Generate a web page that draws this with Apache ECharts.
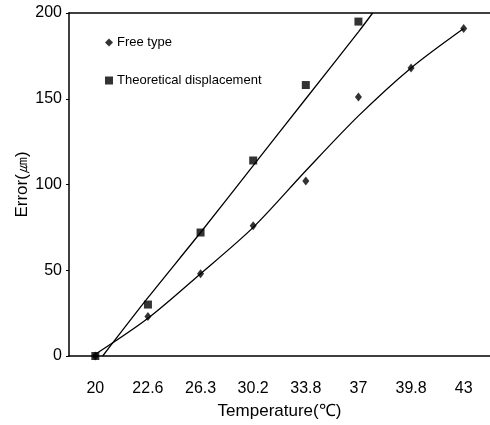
<!DOCTYPE html>
<html><head><meta charset="utf-8">
<script src="https://cdn.jsdelivr.net/npm/echarts@6/dist/echarts.min.js"></script>
<style>html,body{margin:0;padding:0;background:#fff}#c{width:490px;height:425px}</style>
</head><body><div id="c"></div>
<script>
const categories = ['20', '22.6', '26.3', '30.2', '33.8', '37', '39.8', '43'];
const freeType = [0, 23, 48, 76, 102, 151, 168, 191];
const theoretical = [0, 30, 72, 114, 158, 195];
// trend curves: [category position, value]
const freeTrend = [[0, 1], [1, 22], [2, 48], [3, 75], [4, 108], [5, 140], [6, 168], [7, 191]];
const theoTrend = [[0.14, 0], [1, 34], [2, 72], [3, 111], [4, 150], [5, 189], [5.27, 200]];
const yTicks = [0, 50, 100, 150, 200];

const font = 'Liberation Sans, Arial, sans-serif';
const chart = echarts.init(document.getElementById('c'), null, {renderer: 'canvas'});
chart.setOption({
  animation: false,
  backgroundColor: '#fff',
  grid: {left: 69, top: 13, bottom: 68, width: 424, containLabel: false},
  legend: {
    data: [{name: 'Free type', icon: 'diamond'}, {name: 'Theoretical displacement', icon: 'rect'}],
    orient: 'vertical', left: 100, top: 31, itemGap: 25, itemWidth: 8, itemHeight: 8,
    textStyle: {fontFamily: font, fontSize: 13, color: '#000', padding: [0, 0, 0, -1]},
    selectedMode: false
  },
  xAxis: [{
    type: 'category', data: categories, boundaryGap: true,
    name: 'Temperature(℃)', nameLocation: 'middle', nameGap: 47,
    nameTextStyle: {fontFamily: font, fontSize: 17, color: '#000'},
    axisLine: {onZero: false, lineStyle: {color: '#000', width: 1.5}},
    axisTick: {inside: true, length: 4, lineStyle: {color: '#000'}},
    axisLabel: {interval: 0, margin: 25, fontFamily: font, fontSize: 16, color: '#000'},
    splitLine: {show: false}
  }, {
    type: 'value', min: -0.5, max: 7.5, position: 'top',
    axisLine: {show: true, onZero: false, lineStyle: {color: '#000', width: 1.5}},
    axisTick: {show: false}, axisLabel: {show: false}, splitLine: {show: false}
  }],
  yAxis: {
    type: 'value', min: yTicks[0], max: yTicks[yTicks.length - 1], interval: 50,
    name: 'Error(㎛)', nameLocation: 'middle', nameGap: 38, nameRotate: 90, nameMoveOverlap: false,
    nameTextStyle: {fontFamily: font, fontSize: 17, color: '#000'},
    axisLine: {show: true, onZero: false, lineStyle: {color: '#000', width: 1.5}},
    axisTick: {show: true, length: 3, lineStyle: {color: '#000'}},
    axisLabel: {margin: 7, fontFamily: font, fontSize: 16, color: '#000'},
    splitLine: {show: false}
  },
  series: [{
    name: 'Free type trend', type: 'line', xAxisIndex: 1, data: freeTrend,
    smooth: 0.3, showSymbol: false, lineStyle: {color: '#000', width: 1.3}, z: 2
  }, {
    name: 'Theoretical trend', type: 'line', xAxisIndex: 1, data: theoTrend,
    smooth: 0.3, showSymbol: false, lineStyle: {color: '#000', width: 1.3}, z: 2
  }, {
    name: 'Free type', type: 'scatter', xAxisIndex: 0, data: freeType,
    symbol: 'diamond', symbolSize: [7, 9], itemStyle: {color: '#000'}, z: 3
  }, {
    name: 'Theoretical displacement', type: 'scatter', xAxisIndex: 0, data: theoretical,
    symbol: 'rect', symbolSize: 8, itemStyle: {color: '#000'}, z: 3
  }]
});
</script></body></html>
